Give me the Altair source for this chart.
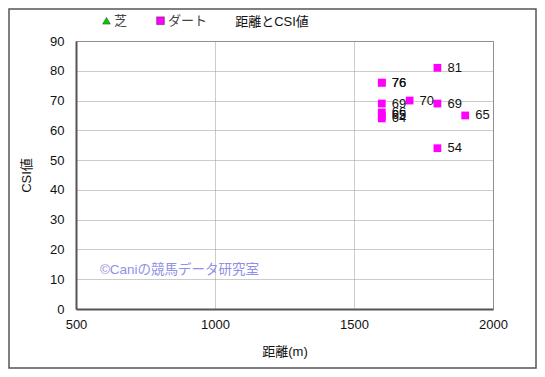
import altair as alt
import pandas as pd

distance = [1600, 1600, 1600, 1600, 1600, 1600, 1700, 1800, 1800, 1800, 1900]
csi = [76, 76, 69, 66, 65, 64, 70, 81, 69, 54, 65]
surface = ["ダート"] * len(distance)

categories = ["芝", "ダート"]
cat_colors = ["#00cc00", "#ff00ff"]
cat_shapes = ["triangle-up", "square"]

x_ticks = [500, 1000, 1500, 2000]
y_ticks = [0, 10, 20, 30, 40, 50, 60, 70, 80, 90]

title_text = "距離とCSI値"
watermark = "©Caniの競馬データ研究室"
wm_x = [586]
wm_y = [13]

FONT = "Liberation Sans, 'Noto Sans CJK JP', sans-serif"

df = pd.DataFrame({"距離": distance, "CSI": csi, "種別": surface})
wm_df = pd.DataFrame({"距離": wm_x, "CSI": wm_y, "t": [watermark]})

xscale = alt.Scale(domain=[500, 2000], nice=False, zero=False)
yscale = alt.Scale(domain=[0, 90], nice=False)

x_axis = alt.Axis(values=x_ticks, title="距離(m)", grid=True,
                  gridColor="#999", gridDash=[1, 1], tickSize=0,
                  labelPadding=9, titlePadding=14, format="d",
                  labelFlush=False, labelOverlap=False)
y_axis = alt.Axis(values=y_ticks, title="CSI値", grid=True,
                  gridColor="#999", gridDash=[1, 1], tickSize=0,
                  labelPadding=12, titlePadding=16, labelOverlap=False)

x_enc = alt.X("距離:Q", scale=xscale, axis=x_axis)
y_enc = alt.Y("CSI:Q", scale=yscale, axis=y_axis)

points = alt.Chart(df).mark_point(filled=True, size=60, opacity=1).encode(
    x=x_enc, y=y_enc,
    color=alt.Color("種別:N", scale=alt.Scale(domain=categories, range=cat_colors),
                    legend=alt.Legend(title=None, orient="none", legendX=24, legendY=-27,
                                      direction="horizontal", symbolSize=60,
                                      labelFontSize=13, labelColor="#444",
                                      symbolStrokeColor="#333", symbolStrokeWidth=0.5,
                                      columnPadding=26, labelOffset=1, padding=0)),
    shape=alt.Shape("種別:N", scale=alt.Scale(domain=categories, range=cat_shapes)),
)

labels = alt.Chart(df).mark_text(align="left", baseline="middle", dx=10, fontSize=13,
                                 color="#111", font=FONT).encode(
    x=x_enc, y=y_enc, text=alt.Text("CSI:Q")
)

wm = alt.Chart(wm_df).mark_text(
    align="left", baseline="middle", fontSize=13.5, color="#9090e8", font=FONT
).encode(x=x_enc, y=y_enc, text="t:N")

border = alt.Chart(pd.DataFrame({"a": [0]})).mark_rect(
    fill=None, stroke="#555", strokeWidth=1.5
).encode(x=alt.value(-67), x2=alt.value(460), y=alt.value(-32), y2=alt.value(327))

title = alt.Chart(pd.DataFrame({"t": [title_text]})).mark_text(
    align="center", baseline="middle", fontSize=13, color="#111", font=FONT
).encode(x=alt.value(196), y=alt.value(-19), text="t:N")

chart = alt.layer(border, points, labels, wm, title).properties(
    width=417, height=268,
    autosize=alt.AutoSizeParams(type="none"),
    padding={"left": 68, "top": 33, "right": 44, "bottom": 60},
).configure_axis(
    labelFont=FONT, titleFont=FONT, labelFontSize=13, titleFontSize=13,
    labelColor="#111", titleColor="#111", titleFontWeight="normal",
    domainColor="#555", domainWidth=2,
).configure_view(stroke="#888", strokeWidth=1).configure_legend(labelFont=FONT)

chart.save("out.html", embed_options={"renderer": "svg", "actions": False})
